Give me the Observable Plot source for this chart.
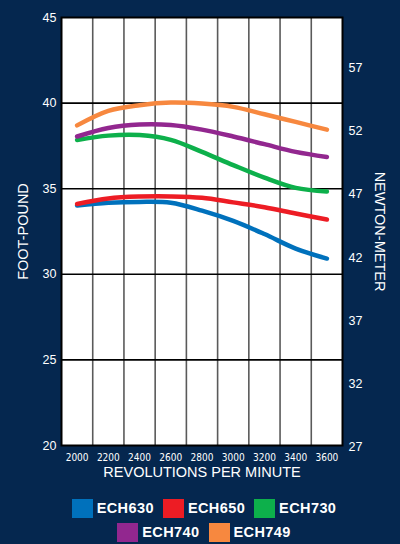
<!DOCTYPE html>
<html>
<head>
<meta charset="utf-8">
<script src="https://cdn.jsdelivr.net/npm/d3@7"></script>
<script src="https://cdn.jsdelivr.net/npm/@observablehq/plot@0.6"></script>
<style>
  html, body { margin: 0; padding: 0; background: #05274f; }
  body { width: 400px; height: 544px; overflow: hidden; font-family: "Liberation Sans", Arial, sans-serif; }
  #chart svg { display: block; }
  #legend { padding-top: 4px; padding-left: 8px; color: white; }
  .row { display: flex; justify-content: center; height: 24px; align-items: center; }
  .item { display: flex; align-items: center; margin: 0 4.5px; }
  .sw { width: 21px; height: 19px; margin-right: 4px; }
  .lab { font-weight: bold; font-size: 14.5px; letter-spacing: 0.4px; }
</style>
</head>
<body>
<div id="chart"></div>
<div id="legend"></div>
<script>
const rpm = [2000, 2200, 2400, 2600, 2800, 3000, 3200, 3400, 3600];
const series = ["ECH630", "ECH650", "ECH730", "ECH740", "ECH749"];
const colors = ["#0071bc", "#ed1c24", "#0db04b", "#92278f", "#f7883f"];
const ech630 = [34.02, 34.18, 34.23, 34.18, 33.72, 33.12, 32.35, 31.5, 30.92];
const ech650 = [34.11, 34.43, 34.54, 34.55, 34.47, 34.2, 33.92, 33.55, 33.2];
const ech730 = [37.85, 38.1, 38.13, 37.85, 37.15, 36.38, 35.65, 35.05, 34.83];
const ech740 = [38.05, 38.55, 38.75, 38.72, 38.45, 38.05, 37.6, 37.15, 36.85];
const ech749 = [38.7, 39.55, 39.88, 40.03, 39.97, 39.78, 39.35, 38.9, 38.45];
const yTicks = [20, 25, 30, 35, 40, 45];
const nmTicks = [27, 32, 37, 42, 47, 52, 57];
const xTicks = [2000, 2200, 2400, 2600, 2800, 3000, 3200, 3400, 3600];
const xGrid = [2100, 2300, 2500, 2700, 2900, 3100, 3300, 3500];
const yGrid = [25, 30, 35, 40];
const NM = 1.35582;

const values = [ech630, ech650, ech730, ech740, ech749];
const data = series.flatMap((s, i) => rpm.map((r, j) => ({series: s, rpm: r, torque: values[i][j]})));

const chart = Plot.plot({
  width: 400,
  height: 492,
  marginLeft: 61,
  marginRight: 58,
  marginTop: 17,
  marginBottom: 47,
  style: {background: "transparent", color: "white", fontFamily: "'Liberation Sans', Arial, sans-serif"},
  x: {domain: [1900, 3700]},
  y: {domain: [20, 45]},
  color: {domain: series, range: colors},
  marks: [
    Plot.frame({fill: "white"}),
    Plot.ruleX(xGrid, {stroke: "#5a5a5a", strokeWidth: 1.6}),
    Plot.ruleY(yGrid, {stroke: "black", strokeWidth: 1.6}),
    Plot.line(data, {x: "rpm", y: "torque", stroke: "series", strokeWidth: 4.5, curve: "catmull-rom", strokeLinecap: "round", strokeLinejoin: "round"}),
    Plot.frame({stroke: "black", strokeWidth: 2}),
    Plot.axisY(yTicks, {anchor: "left", tickSize: 0, tickPadding: 5, fontSize: 12.5, label: null, fill: "white"}),
    Plot.axisY(nmTicks.map(n => n / NM), {anchor: "right", tickSize: 0, tickPadding: 6, fontSize: 12.5, label: null, fill: "white", tickFormat: d => String(Math.round(d * NM))}),
    Plot.axisX(xTicks, {anchor: "bottom", tickSize: 0, tickPadding: 8, fontSize: 10, label: null, fill: "white", fontFamily: "'Liberation Sans Narrow', 'DejaVu Sans Condensed', Arial, sans-serif", tickFormat: d => String(d)}),
    Plot.text(["REVOLUTIONS PER MINUTE"], {frameAnchor: "bottom", dy: 31, fontSize: 14.5, fill: "white", text: d => d}),
    Plot.text(["FOOT-POUND"], {frameAnchor: "left", dx: -38, rotate: -90, textAnchor: "middle", fontSize: 14.5, fill: "white", text: d => d}),
    Plot.text(["NEWTON-METER"], {frameAnchor: "right", dx: 37, rotate: 90, textAnchor: "middle", fontSize: 14.5, fill: "white", text: d => d})
  ]
});
document.getElementById("chart").appendChild(chart);

const legend = document.getElementById("legend");
const rows = [[0, 1, 2], [3, 4]];
for (const r of rows) {
  const row = document.createElement("div");
  row.className = "row";
  for (const i of r) {
    const item = document.createElement("div");
    item.className = "item";
    const sw = document.createElement("span");
    sw.className = "sw";
    sw.style.background = colors[i];
    const lab = document.createElement("span");
    lab.className = "lab";
    lab.textContent = series[i];
    item.appendChild(sw);
    item.appendChild(lab);
    row.appendChild(item);
  }
  legend.appendChild(row);
}
</script>
</body>
</html>
